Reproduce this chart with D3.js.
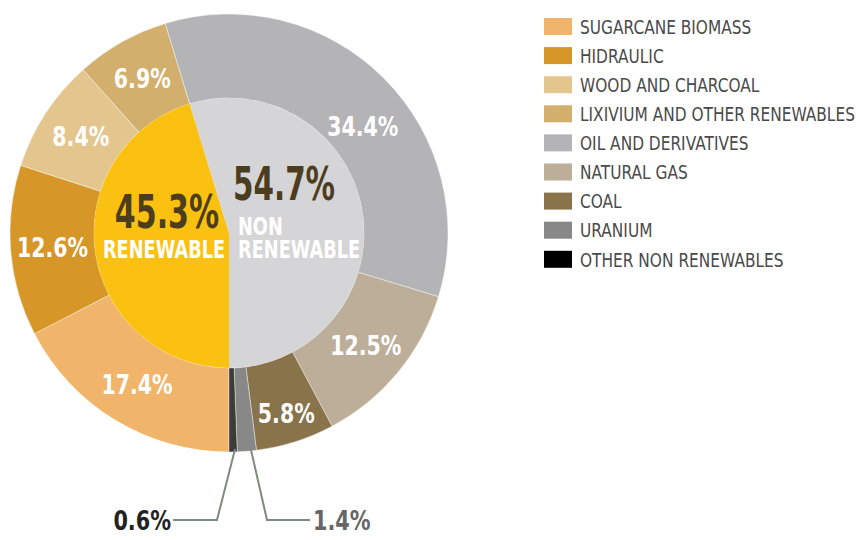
<!DOCTYPE html>
<html>
<head>
<meta charset="utf-8">
<script src="https://cdn.jsdelivr.net/npm/d3@7"></script>
<style>
  body { margin: 0; background: #fff; }
  text { font-family: "DejaVu Sans", sans-serif; }
</style>
</head>
<body>
<div class="chart"></div>
<script>
// Data
var sources = ["SUGARCANE BIOMASS", "HIDRAULIC", "WOOD AND CHARCOAL", "LIXIVIUM AND OTHER RENEWABLES",
  "OIL AND DERIVATIVES", "NATURAL GAS", "COAL", "URANIUM", "OTHER NON RENEWABLES"];
var shares = [17.4, 12.6, 8.4, 6.9, 34.4, 12.5, 5.8, 1.4, 0.6];
var sliceColors = ["#f0b46b", "#d69628", "#e3c68e", "#d2af6c", "#b4b4b6", "#bdae99", "#88734a", "#888888", "#3b3b3b"];
var legendColors = ["#f0b46b", "#d69628", "#e3c68e", "#d2af6c", "#b4b4b6", "#bdae99", "#88734a", "#888888", "#000000"];

var groups = ["RENEWABLE", "NON RENEWABLE"];
var groupShares = [45.3, 54.7];
var groupColors = ["#fbc110", "#d5d5d7"];

var svgWidth = 861;
var svgHeight = 540;
var cx = 229, cy = 233;
var outerR = 219, innerR = 135, labelR = 177;

var svg = d3.select(".chart")
  .append("svg")
  .attr("width", svgWidth)
  .attr("height", svgHeight);

var chartGroup = svg.append("g")
  .attr("transform", `translate(${cx}, ${cy})`);

// no condensed face installed, so squeeze the glyphs horizontally
function squeeze(sel, k) {
  sel.each(function() {
    var t = d3.select(this);
    var x = +t.attr("x") || 0, y = +t.attr("y") || 0;
    t.attr("x", null).attr("y", null)
      .attr("transform", `translate(${x}, ${y}) scale(${k}, 1)`);
  });
  return sel;
}

// both rings start at 6 o'clock and run clockwise
var pie = d3.pie().sort(null).startAngle(Math.PI).endAngle(3 * Math.PI);

var ringArc = d3.arc().innerRadius(innerR).outerRadius(outerR);
var coreArc = d3.arc().innerRadius(0).outerRadius(innerR);

var ringData = pie(shares);
var coreData = pie(groupShares);

chartGroup.selectAll("path.ring")
  .data(ringData)
  .enter()
  .append("path")
  .attr("class", "ring")
  .attr("d", ringArc)
  .attr("fill", (d, i) => sliceColors[i])
  .attr("stroke", "#fff")
  .attr("stroke-width", 0.4);

chartGroup.selectAll("path.core")
  .data(coreData)
  .enter()
  .append("path")
  .attr("class", "core")
  .attr("d", coreArc)
  .attr("fill", (d, i) => groupColors[i]);

// ring labels (the two small slices get callouts)
var tweak = { 4: { da: 6.5, r: 171 }, 6: { da: 0, r: 189 } };
ringData.forEach(function(d, i) {
  if (shares[i] < 2) return;
  var t = tweak[i] || { da: 0, r: labelR };
  var a = (d.startAngle + d.endAngle) / 2 + t.da * Math.PI / 180;
  squeeze(chartGroup.append("text")
    .attr("x", t.r * Math.sin(a))
    .attr("y", -t.r * Math.cos(a))
    .attr("dy", "0.36em")
    .attr("text-anchor", "middle")
    .attr("fill", "#fff")
    .attr("font-weight", "bold")
    .attr("font-size", 27)
    .text(d3.format(".1f")(shares[i]) + "%"), 0.76);
});

// callouts for uranium and other non renewables
var calloutColor = "#7d8a7e";
var other = ringData[8], uranium = ringData[7];
function ptAt(d, r) {
  var a = (d.startAngle + d.endAngle) / 2;
  return [r * Math.sin(a), -r * Math.cos(a)];
}
var p0 = ptAt(other, outerR - 3);
chartGroup.append("polyline")
  .attr("points", [[p0[0] + 2, p0[1]], [-12, 287], [-56, 287]].map(p => p.join(",")).join(" "))
  .attr("fill", "none")
  .attr("stroke", calloutColor)
  .attr("stroke-width", 2);
squeeze(chartGroup.append("text")
  .attr("x", -58).attr("y", 287).attr("dy", "0.36em")
  .attr("text-anchor", "end")
  .attr("fill", "#222")
  .attr("font-weight", "bold")
  .attr("font-size", 27)
  .text(d3.format(".1f")(shares[8]) + "%"), 0.77);

var p1 = ptAt(uranium, outerR - 3);
chartGroup.append("polyline")
  .attr("points", [[p1[0] + 4, p1[1]], [38, 287], [81, 287]].map(p => p.join(",")).join(" "))
  .attr("fill", "none")
  .attr("stroke", calloutColor)
  .attr("stroke-width", 2);
squeeze(chartGroup.append("text")
  .attr("x", 84).attr("y", 287).attr("dy", "0.36em")
  .attr("fill", "#666")
  .attr("font-weight", "bold")
  .attr("font-size", 27)
  .text(d3.format(".1f")(shares[7]) + "%"), 0.77);

// inner pie texts
var bigColor = "#4d3d1f";
squeeze(chartGroup.append("text")
  .attr("x", -62).attr("y", -5)
  .attr("text-anchor", "middle")
  .attr("fill", bigColor).attr("font-weight", "bold").attr("font-size", 46)
  .text(groupShares[0] + "%"), 0.655);
squeeze(chartGroup.append("text")
  .attr("x", -65).attr("y", 25)
  .attr("text-anchor", "middle")
  .attr("fill", "#fff").attr("font-weight", "bold").attr("font-size", 25)
  .text(groups[0]), 0.71);

squeeze(chartGroup.append("text")
  .attr("x", 4).attr("y", -33)
  .attr("fill", bigColor).attr("font-weight", "bold").attr("font-size", 46)
  .text(groupShares[1] + "%"), 0.64);
var nonWords = groups[1].split(" ");
squeeze(chartGroup.append("text")
  .attr("x", 9).attr("y", 2)
  .attr("fill", "#fff").attr("font-weight", "bold").attr("font-size", 25)
  .text(nonWords[0]), 0.71);
squeeze(chartGroup.append("text")
  .attr("x", 9).attr("y", 25)
  .attr("fill", "#fff").attr("font-weight", "bold").attr("font-size", 25)
  .text(nonWords[1]), 0.71);

// legend
var legend = svg.append("g")
  .attr("transform", "translate(544, 18)");

var rows = legend.selectAll("g")
  .data(sources)
  .enter()
  .append("g")
  .attr("transform", (d, i) => `translate(0, ${i * 29.1})`);

rows.append("rect")
  .attr("width", 28)
  .attr("height", 17)
  .attr("fill", (d, i) => legendColors[i]);

squeeze(rows.append("text")
  .attr("x", 36)
  .attr("y", 8.5)
  .attr("dy", "0.36em")
  .attr("fill", "#4a4a4a")
  .attr("font-size", 20)
  .text(d => d), 0.77);
</script>
</body>
</html>
